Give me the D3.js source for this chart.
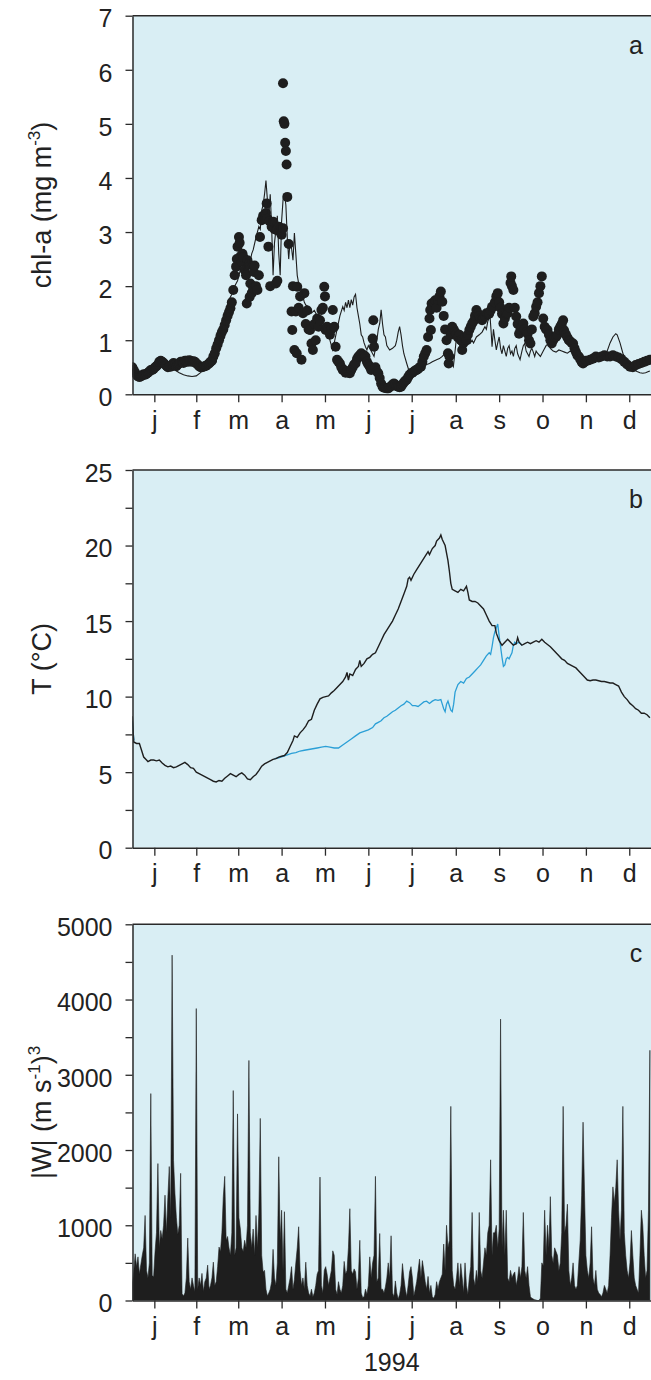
<!DOCTYPE html>
<html>
<head>
<meta charset="utf-8">
<script src="https://cdn.jsdelivr.net/npm/d3@7"></script>
<style>
  body { margin: 0; background: #fff; }
  svg text { font-family: "Liberation Sans", Arial, Helvetica, sans-serif; fill: #222; }
</style>
</head>
<body>
<svg id="chart" width="651" height="1380"></svg>
<script>
// ---- data (day of year 1994, value) ----
var monthLabels = ['j','f','m','a','m','j','j','a','s','o','n','d'];

var chlTicks = [0,1,2,3,4,5,6,7];
var tempTicks = [0,5,10,15,20,25];
var tempMinor = [2.5,7.5,12.5,17.5,22.5];
var windTicks = [0,1000,2000,3000,4000,5000];
var windMinor = [500,1500,2500,3500,4500];

// measured chl-a (dots)
var chlDots = [
  [0,0.5],[1,0.45],[2,0.4],[3,0.36],[4,0.33],[5,0.32],[6,0.33],[7,0.35],[8,0.37],[9,0.36],
  [10,0.38],[11,0.4],[12,0.42],[13,0.45],[14,0.45],[15,0.47],[16,0.5],[17,0.52],[18,0.55],[19,0.6],
  [20,0.62],[21,0.6],[22,0.58],[23,0.55],[24,0.53],[25,0.5],[26,0.52],[27,0.51],[28,0.55],[29,0.58],
  [30,0.55],[31,0.52],[32,0.55],[33,0.57],[34,0.6],[35,0.6],[36,0.58],[37,0.62],[38,0.62],[39,0.6],
  [40,0.63],[41,0.62],[42,0.6],[43,0.61],[44,0.6],[45,0.57],[46,0.55],[47,0.52],[48,0.5],[49,0.5],
  [50,0.51],[51,0.52],[52,0.53],[53,0.55],[54,0.57],[55,0.6],[56,0.62],[57,0.7],[58,0.76],[59,0.85],
  [60,0.92],[61,1.0],[62,1.08],[63,1.15],[64,1.2],[65,1.28],[66,1.37],[67,1.45],[68,1.52],[69,1.59],
  [70,1.7],[71,1.93],[72,2.2],[73,2.36],[73.5,2.5],[74,2.73],[75,2.91],[75.5,2.8],[76,2.55],[77,2.45],
  [77.5,2.6],[78,2.54],[79,2.3],[80,2.2],[80.5,1.68],[81,2.48],[82,2.4],[82.5,1.8],[83,2.05],[84,1.87],
  [85,1.95],[85.5,2.26],[86,2.38],[87,2.0],[88,1.93],[89,2.2],[89.8,2.91],[91,3.22],[92,3.3],[93,3.25],
  [94,3.35],[94.5,3.53],[95,3.25],[95.7,2.73],[96.5,3.2],[97,2.0],[98,3.1],[99.2,3.19],[100,3.05],[101,2.05],
  [101.5,3.04],[102,2.1],[103,3.1],[104,3.0],[105,2.95],[106,3.07],
  [106,5.75],[106.5,5.05],[107,5.0],[107.5,4.65],[108,4.5],[108.5,4.25],[109,3.65],[110,2.78],
  [112,1.53],[112.5,1.19],[113,2.0],[114,0.82],[115,1.53],[115.6,0.76],[116,1.99],[117,1.6],[118,1.81],[119,0.64],
  [120,1.5],[121,1.87],[122,1.3],[123,1.55],[124,1.2],[125,1.19],[126,0.94],[127,0.82],[128,1.3],[129,1.0],
  [130,1.4],[131,1.25],[132,1.37],[133,1.56],[134,1.6],[135,1.99],[135.5,1.81],[136,1.19],[137,1.25],[138,1.2],
  [139,1.1],[140,1.2],[141,1.56],[142,1.25],[143,0.88],[144,0.64],[145,0.6],[146,0.57],[147,0.5],[148,0.45],
  [149,0.45],[150,0.4],[151,0.42],[152,0.4],[153,0.39],[154,0.45],[155,0.5],[156,0.55],[157,0.57],[158,0.65],
  [159,0.7],[160,0.72],[161,0.76],[162,0.7],[163,0.72],[164,0.7],[165,0.6],[166,0.55],[167,0.51],[168,0.45],
  [169,1.03],[169.5,1.37],[170,0.88],[171,0.5],[172,0.42],[173,0.39],[174,0.3],
  [175,0.2],[176,0.14],[177,0.12],[178,0.12],[179,0.11],[180,0.11],[181,0.13],[182,0.15],[183,0.18],[184,0.2],
  [185,0.18],[186,0.15],[187,0.14],[188,0.13],[189,0.14],[190,0.18],[191,0.22],[192,0.25],[193,0.27],[194,0.32],
  [195,0.36],[196,0.39],[197,0.4],[198,0.42],[199,0.44],[200,0.45],[201,0.47],[202,0.5],[203,0.51],[204,0.6],
  [205,0.7],[206,0.76],[207,0.82],[208,1.06],[209,1.4],[209.5,1.56],[210,1.19],[210.5,1.68],[211,1.62],[212,1.7],
  [213,1.74],[214,1.6],[215,1.75],[216,1.81],[217,1.9],[218,1.71],[219,1.45],[220,1.2],[221,1.0],[222,0.76],
  [222.5,0.57],[223,0.7],[224,1.1],[225,1.25],[226,1.2],[227,1.15],[228,1.12],[229,1.05],[230,1.1],[231,1.0],
  [232,0.82],[233,0.95],[234,1.05],[235,1.0],[236,1.1],[237,1.19],[238,1.25],[239,1.31],[240,1.35],[241,1.45],
  [242,1.56],[243,1.5],[244,1.45],[245,1.4],[246,1.37],[247,1.42],[248,1.45],[249,1.5],[250,1.48],[251,1.49],
  [252,1.55],[253,1.62],[254,1.62],[255,1.7],[256,1.81],[257,1.87],[258,1.7],[259,1.6],[260,1.49],[261,1.31],
  [262,1.4],[263,1.49],[264,1.5],[265,1.6],[266,2.06],[266.5,2.18],[267,2.0],[268,1.93],[269,1.6],[270,1.44],
  [271,1.3],[272,1.12],[273,1.2],[274,1.25],[275,1.31],[276,1.2],[277,1.15],[278,1.12],[279,1.0],[280,0.94],
  [281,1.2],[282,1.44],[283,1.5],[284,1.62],[285,1.7],[286,1.87],[287,2.0],[288,2.18],[289,1.4],[290,1.25],
  [291,1.2],[292,1.19],[293,1.1],[294,1.0],[295,0.94],[296,1.0],[297,1.05],[298,1.06],[299,1.1],[300,1.2],
  [301,1.25],[302,1.3],[303,1.37],[303.5,1.19],[304,1.15],[305,1.1],[306,1.05],[307,1.0],[308,0.98],[309,0.95],
  [310,0.94],[311,0.85],[312,0.78],[313,0.72],[314,0.7],[315,0.65],[316,0.6],[317,0.57],[318,0.6],[319,0.62],
  [320,0.62],[322,0.64],[324,0.66],[326,0.7],[328,0.68],[330,0.7],[332,0.72],[334,0.7],[336,0.7],[338,0.72],
  [340,0.7],[342,0.68],[344,0.65],[346,0.6],[348,0.55],[350,0.51],[352,0.5],[354,0.54],[356,0.56],[358,0.58],
  [360,0.6],[362,0.62],[364,0.64]
];

// modelled chl-a (thin line)
var chlModel = [
  [0,0.45],[3,0.4],[6,0.38],[9,0.42],[12,0.45],[15,0.5],[18,0.55],[21,0.58],[24,0.55],[27,0.5],
  [30,0.45],[33,0.4],[36,0.36],[39,0.34],[42,0.33],[45,0.34],[48,0.4],[51,0.48],[54,0.5],[57,0.55],
  [59,0.6],[61,0.9],[62,1.07],[63,1.2],[64,1.35],[65,1.3],[66,1.5],[67,1.68],[68,1.75],[70,1.85],
  [72,2.0],[74,2.1],[76,2.3],[78,2.2],[80,2.5],[82,2.35],[84,2.6],[85,2.67],[87,2.9],[89,3.1],
  [90,3.05],[91,3.4],[92,3.5],[93,3.7],[94,3.95],[95,3.6],[96,3.28],[97,3.7],[98,3.1],[99,2.2],
  [100,2.8],[101,3.04],[102,3.3],[103,2.6],[104,2.2],[105,3.2],[106,3.59],[107,3.7],[108,3.5],[109,2.9],
  [110,2.5],[111,2.85],[112,2.7],[113,2.48],[114,2.98],[115,2.6],[116,2.2],[117,2.05],[118,1.99],[119,1.9],
  [120,1.8],[121,1.7],[122,1.65],[124,1.62],[126,1.5],[128,1.55],[130,1.45],[132,1.44],[134,1.35],[136,1.25],
  [138,1.1],[140,0.9],[141,0.82],[142,0.95],[144,1.2],[146,1.45],[148,1.62],[149,1.55],[150,1.7],[151,1.6],
  [152,1.74],[153,1.6],[154,1.75],[155,1.65],[156,1.8],[157,1.85],[158,1.6],[159,1.45],[160,1.3],[161,1.1],
  [162,1.06],[163,0.95],[164,0.88],[165,0.82],[166,0.9],[168,0.8],[170,0.7],[172,1.0],[173,1.2],[174,1.31],
  [175,1.56],[176,1.3],[177,1.1],[178,1.06],[179,0.9],[181,0.82],[183,0.85],[185,0.9],[186,1.0],[187,1.15],
  [188,1.25],[189,1.1],[190,0.9],[191,0.75],[193,0.57],[195,0.4],[196.5,0.33],[198,0.36],[200,0.4],[202,0.45],
  [205,0.51],[207,0.55],[209,0.57],[211,0.6],[214,0.64],[216,0.66],[218,0.7],[220,0.76],[222,0.8],[224,0.6],
  [225.8,0.51],[227,0.8],[228,1.06],[229,0.95],[231,0.88],[233,0.9],[235,0.92],[237.5,0.94],[239,1.0],[240,0.95],
  [242,1.06],[244,1.1],[246,1.15],[248,1.25],[249,1.2],[250,1.35],[251.6,1.44],[252.5,1.1],[253,0.88],[254,1.2],
  [255,1.0],[256,0.82],[257,0.95],[258,1.06],[259,0.85],[260,0.75],[261,0.9],[262,0.8],[263,0.7],[264,0.85],
  [265,0.9],[266,0.75],[267,0.8],[268,0.7],[269,0.85],[270,0.9],[271,0.75],[272.7,0.64],[274,0.8],[275,0.9],
  [276,0.94],[277,0.8],[278,0.75],[279,0.7],[280,0.8],[281,0.85],[282,0.78],[283,0.7],[284,0.8],[285,0.76],
  [287,0.7],[289,0.8],[291,0.9],[292.7,0.94],[294,0.85],[296,0.8],[298,0.78],[300,0.82],[302,0.8],[304,0.78],
  [306,0.76],[308,0.8],[310,0.75],[312,0.72],[314,0.7],[316,0.66],[318,0.64],[320,0.66],[322,0.68],[324,0.7],
  [326,0.7],[328,0.68],[330,0.7],[332,0.72],[334,0.8],[336,0.95],[338,1.06],[340,1.12],[341,1.1],[343,0.95],
  [345,0.76],[347,0.65],[349,0.57],[351,0.5],[353,0.45],[355,0.42],[357,0.4],[359,0.39],[361,0.4],[363,0.42],
  [364,0.43]
];

// surface temperature (black)
var tempSurface = [
  [0,8.7],[1,7.0],[3,6.9],[5,6.9],[6,6.6],[8,6.0],[10,5.8],[11,5.7],[13,5.8],[15,5.8],
  [17,5.75],[19,5.8],[21,5.6],[23,5.45],[25,5.35],[27,5.4],[29,5.3],[31,5.35],[33,5.45],[35,5.55],
  [37,5.65],[39,5.5],[41,5.3],[43,5.25],[45,5.0],[47,4.9],[49,4.8],[51,4.7],[53,4.6],[55,4.5],
  [57,4.4],[59,4.35],[61,4.45],[63,4.4],[65,4.6],[67,4.75],[69,4.9],[71,4.8],[73,4.7],[75,4.85],
  [77,4.95],[79,4.8],[81,4.55],[83,4.5],[85,4.7],[87,4.85],[89,5.1],[91,5.4],[93,5.55],[95,5.65],
  [97,5.75],[99,5.85],[101,5.9],[103,6.0],[105,6.05],[107,6.1],[109,6.3],[111,6.7],[113,7.1],[114,7.4],
  [116,7.3],[118,7.6],[120,7.8],[122,8.05],[124,8.4],[126,8.5],[128,9.1],[130,9.5],[132,9.85],[134,9.95],
  [136,10.0],[138,10.05],[140,10.25],[142,10.4],[144,10.6],[146,10.8],[148,11.0],[150,11.3],[151,11.6],[152,11.1],
  [153,11.5],[155,11.4],[157,11.8],[159,12.0],[160,12.4],[161,12.0],[163,12.2],[165,12.5],[167,12.6],[169,12.8],
  [171,12.9],[173,13.3],[175,13.7],[177,14.1],[179,14.4],[181,14.7],[183,15.0],[185,15.4],[187,15.8],[189,16.3],
  [191,16.8],[193,17.3],[194,17.8],[195,17.9],[196,17.7],[198,18.1],[200,18.4],[202,18.7],[204,19.0],[206,19.3],
  [208,19.6],[209,19.4],[211,19.8],[213,20.0],[214,20.3],[216,20.5],[217,20.7],[218,20.4],[220,20.0],[221,19.5],
  [222,19.0],[223,18.3],[224,17.5],[225,17.1],[227,17.0],[229,16.9],[231,17.1],[233,17.0],[235,17.3],[236,16.9],
  [237,16.4],[239,16.3],[241,16.3],[243,16.2],[245,16.0],[247,15.8],[249,15.4],[251,15.0],[253,14.7],[255,14.7],
  [256,14.2],[258,13.7],[260,13.4],[262,13.6],[264,13.8],[266,13.6],[268,13.4],[270,13.5],[271,13.9],[272,13.6],
  [274,13.4],[276,13.5],[278,13.6],[280,13.5],[282,13.6],[284,13.7],[286,13.6],[288,13.8],[290,13.6],[292,13.45],
  [294,13.3],[296,13.1],[298,12.9],[300,12.7],[302,12.5],[304,12.4],[306,12.2],[308,12.1],[310,12.0],[312,11.9],
  [314,11.7],[316,11.5],[318,11.3],[320,11.1],[322,11.05],[324,11.1],[326,11.1],[328,11.05],[330,11.0],[332,11.0],
  [334,10.95],[336,10.9],[338,10.9],[340,10.8],[342,10.7],[344,10.3],[346,10.0],[348,9.8],[350,9.55],[352,9.4],
  [354,9.2],[356,9.1],[358,8.9],[360,8.9],[362,8.8],[364,8.6]
];

// bottom temperature (blue) where it separates from the surface
var tempBottomStart = [[0,8.4],[0.6,7.6],[1.2,7.1]];
var tempBottom = [
  [100,5.9],[103,5.95],[106,6.05],[109,6.15],[112,6.25],[115,6.3],[118,6.4],[121,6.45],[124,6.5],[127,6.55],
  [130,6.6],[133,6.65],[136,6.7],[139,6.65],[142,6.6],[145,6.6],[148,6.8],[151,7.0],[154,7.2],[157,7.4],
  [160,7.6],[163,7.7],[166,7.8],[169,7.95],[171,8.2],[173,8.3],[175,8.4],[177,8.6],[179,8.7],[181,8.85],
  [183,9.0],[185,9.1],[187,9.25],[189,9.4],[191,9.5],[193,9.7],[195,9.6],[197,9.4],[199,9.4],[201,9.35],
  [203,9.5],[205,9.65],[207,9.7],[209,9.55],[211,9.7],[213,9.8],[215,9.75],[217,9.8],[218,9.5],[219,9.2],
  [220,9.0],[221,9.5],[222,9.7],[223,9.4],[224,9.1],[225,9.0],[226,9.5],[227,10.3],[229,10.8],[231,11.0],
  [233,10.9],[235,11.2],[237,11.3],[239,11.5],[241,11.7],[243,11.9],[245,12.1],[247,12.4],[249,12.7],[251,12.9],
  [252,12.8],[253,13.3],[254,13.9],[255,14.3],[257,14.8],[258,14.0],[259,13.3],[260,12.6],[261,12.0],[262,12.1],
  [263,12.5],[264,12.6],[265,12.5],[266,12.7],[267,12.9],[268,13.4],[269,13.6],[270,13.5],[272,13.6],[274,13.4]
];

// daily |W|^3, one array per month
var windJan = [220,380,620,450,580,350,480,600,700,1130,400,300,500,2750,330,320,650,900,1820,700,930,820,1000,1400,900,1370,1780,1100,4590,1860,1420];
var windFeb = [1100,880,1000,1690,90,60,100,300,830,250,150,300,200,120,3880,150,300,200,360,120,250,300,470,150,200,300,510,200];
var windMar = [250,450,710,650,900,1380,1650,800,850,700,600,900,2790,600,700,2480,1100,950,700,650,800,700,1000,3190,900,700,950,600,1130,700,1160];
var windApr = [2420,600,380,400,150,60,100,150,250,680,300,200,500,1910,800,1200,400,1180,150,100,200,300,450,150,280,500,700,980,400,200];
var windMay = [300,150,510,200,100,60,150,50,100,200,350,400,1640,200,100,400,450,350,200,300,400,660,600,150,80,250,150,100,200,520,350];
var windJun = [400,700,1220,400,350,420,380,150,300,800,100,40,50,150,80,200,580,300,500,600,1650,250,300,890,150,150,100,180,300,500];
var windJul = [300,860,100,50,260,100,20,80,200,490,300,150,50,200,380,450,300,60,150,250,400,550,300,530,400,250,150,320,100,200,50];
var windAug = [30,80,250,150,250,300,350,750,400,1000,700,800,2580,400,200,150,300,500,200,490,300,100,500,200,80,300,450,1170,300,200,400];
var windSep = [250,1170,400,300,500,700,600,900,1000,1870,600,900,900,1000,700,950,3740,700,1200,600,1200,300,250,400,300,350,380,200,300,450];
var windOct = [300,450,1170,400,300,450,200,50,30,20,10,5,0,0,30,500,465,1200,600,1000,700,1380,600,500,700,650,600,400,500,900,2580];
var windNov = [900,1000,1280,400,200,300,500,200,150,200,500,800,1400,2370,1460,600,400,300,500,980,300,200,400,150,100,80,50,100,200,150];
var windDec = [100,200,600,1100,1510,1300,1500,1870,1200,800,1200,2580,900,600,400,300,500,930,600,300,200,150,100,600,1200,1000,600,300,400,1200,3325];

// ---- layout ----
var T0 = Date.UTC(1994, 0, 1), DAY = 864e5;
function dt(day) { return new Date(T0 + day * DAY); }

var plotLeft = 132.5, plotRight = 651;
var bgBlue = '#d9eef4', ink = '#1e1e1e', axisInk = '#2a2a2a';

var svg = d3.select('#chart');

var x = d3.scaleUtc()
  .domain([new Date(T0), new Date(Date.UTC(1995, 0, 1))])
  .range([132.3, 651.3]);

// month ticks sit in the middle of each month
var midMonths = d3.range(12).map(function(m) {
  var a = Date.UTC(1994, m, 1), b = Date.UTC(1994, m + 1, 1);
  return new Date((a + b) / 2);
});

function buildPanel(id, top, bottom, yMax) {
  var y = d3.scaleLinear().domain([0, yMax]).range([bottom, top]);
  var g = svg.append('g').attr('class', 'panel-' + id);
  svg.append('clipPath').attr('id', 'clip-' + id)
    .append('rect')
      .attr('x', plotLeft).attr('y', top)
      .attr('width', plotRight - plotLeft).attr('height', bottom - top);
  g.append('rect')
    .attr('x', plotLeft).attr('y', top)
    .attr('width', plotRight - plotLeft).attr('height', bottom - top)
    .attr('fill', bgBlue);
  var data = g.append('g').attr('clip-path', 'url(#clip-' + id + ')');
  return { id: id, y: y, g: g, data: data, top: top, bottom: bottom };
}

function drawAxes(p, majors, minors, letter) {
  var left = p.g.append('g')
    .attr('transform', 'translate(' + plotLeft + ',0)')
    .call(d3.axisLeft(p.y).tickValues(majors).tickSize(7).tickSizeOuter(0).tickPadding(13)
      .tickFormat(d3.format('d')));
  if (minors) {
    p.g.append('g')
      .attr('transform', 'translate(' + plotLeft + ',0)')
      .call(d3.axisLeft(p.y).tickValues(minors).tickSize(7).tickFormat(''))
      .select('.domain').remove();
  }
  var bottom = p.g.append('g')
    .attr('transform', 'translate(0,' + p.bottom + ')')
    .call(d3.axisBottom(x).tickValues(midMonths).tickSize(8).tickSizeOuter(0).tickPadding(9)
      .tickFormat(function(d, i) { return monthLabels[i]; }));

  p.g.append('line')
    .attr('x1', plotLeft).attr('x2', plotRight)
    .attr('y1', p.top).attr('y2', p.top)
    .attr('stroke', axisInk).attr('stroke-width', 1.5);

  p.g.selectAll('.domain').attr('stroke', axisInk).attr('stroke-width', 1.5);
  p.g.selectAll('.tick line').attr('stroke', axisInk).attr('stroke-width', 1.3);
  left.selectAll('.tick text').attr('font-size', 25).attr('dy', '0.45em');
  bottom.selectAll('.tick text').attr('font-size', 25);

  p.g.append('text')
    .attr('x', 636).attr('y', p.top + 38)
    .attr('text-anchor', 'middle')
    .attr('font-size', 25)
    .text(letter);
}

function yTitle(p, parts) {
  var t = p.g.append('text')
    .attr('transform', 'translate(51,' + ((p.top + p.bottom) / 2) + ') rotate(-90)')
    .attr('text-anchor', 'middle')
    .attr('font-size', 27);
  parts.forEach(function(s) {
    var span = t.append('tspan').text(s.t);
    if (s.sup) span.attr('font-size', 17).attr('dy', -11);
    if (s.down) span.attr('dy', 11);
  });
}

// ---- a: chl-a ----
var pa = buildPanel('a', 15.7, 394.3, 7);
pa.data.selectAll('circle')
  .data(chlDots)
  .join('circle')
    .attr('cx', function(d) { return x(dt(d[0])); })
    .attr('cy', function(d) { return pa.y(d[1]); })
    .attr('r', 5)
    .attr('fill', ink);
pa.data.append('path')
  .datum(chlModel)
  .attr('fill', 'none')
  .attr('stroke', ink)
  .attr('stroke-width', 1.1)
  .attr('d', d3.line()
    .x(function(d) { return x(dt(d[0])); })
    .y(function(d) { return pa.y(d[1]); }));
drawAxes(pa, chlTicks, null, 'a');
yTitle(pa, [{t: 'chl-a (mg m'}, {t: '-3', sup: true}, {t: ')', down: true}]);

// ---- b: temperature ----
var pb = buildPanel('b', 470, 847.7, 25);
var tLine = d3.line()
  .x(function(d) { return x(dt(d[0])); })
  .y(function(d) { return pb.y(d[1]); });
[tempBottomStart, tempBottom].forEach(function(seg) {
  pb.data.append('path')
    .datum(seg)
    .attr('fill', 'none')
    .attr('stroke', '#2b9fd6')
    .attr('stroke-width', 1.3)
    .attr('d', tLine);
});
pb.data.append('path')
  .datum(tempSurface)
  .attr('fill', 'none')
  .attr('stroke', ink)
  .attr('stroke-width', 1.4)
  .attr('d', tLine);
drawAxes(pb, tempTicks, tempMinor, 'b');
yTitle(pb, [{t: 'T (\u00B0C)'}]);

// ---- c: wind cubed ----
var pc = buildPanel('c', 924.3, 1300.5, 5000);
var windDaily = [].concat(windJan, windFeb, windMar, windApr, windMay, windJun,
                          windJul, windAug, windSep, windOct, windNov, windDec);
pc.data.append('path')
  .datum(windDaily)
  .attr('fill', ink)
  .attr('stroke', ink)
  .attr('stroke-width', 0.6)
  .attr('d', d3.area()
    .x(function(d, i) { return x(dt(i)); })
    .y0(pc.y(0))
    .y1(function(d) { return pc.y(d); }));
drawAxes(pc, windTicks, windMinor, 'c');
yTitle(pc, [{t: '|W| (m s'}, {t: '-1', sup: true}, {t: ')', down: true}, {t: '3', sup: true}]);

svg.append('text')
  .attr('x', (plotLeft + plotRight) / 2)
  .attr('y', 1371)
  .attr('text-anchor', 'middle')
  .attr('font-size', 25)
  .text('1994');
</script>
</body>
</html>
